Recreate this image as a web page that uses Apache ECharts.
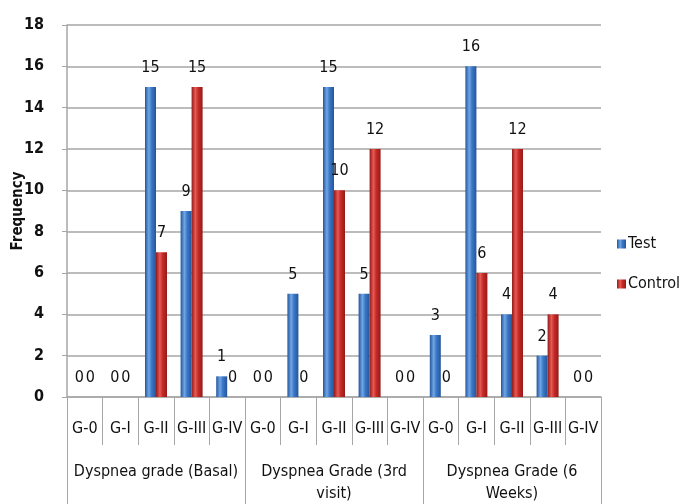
<!DOCTYPE html>
<html>
<head>
<meta charset="utf-8">
<script src="https://cdn.jsdelivr.net/npm/echarts@6/dist/echarts.min.js"></script>
<style>
  html, body { margin: 0; padding: 0; background: #fff; }
  #chart { width: 687px; height: 504px; }
</style>
</head>
<body>
<div id="chart"></div>
<script>
const grades = ['G-0', 'G-I', 'G-II', 'G-III', 'G-IV',
  'G-0', 'G-I', 'G-II', 'G-III', 'G-IV',
  'G-0', 'G-I', 'G-II', 'G-III', 'G-IV']
const groups = ['Dyspnea grade (Basal)', 'Dyspnea Grade (3rd\nvisit)', 'Dyspnea Grade (6\nWeeks)']
const testValues = [0, 0, 15, 9, 1, 0, 5, 15, 5, 0, 3, 16, 4, 2, 0]
const controlValues = [0, 0, 7, 15, 0, 0, 0, 10, 12, 0, 0, 6, 12, 4, 0]
const yTicks = { min: 0, max: 18, interval: 2 }

const font = "'Liberation Sans Narrow', 'DejaVu Sans Condensed', 'Liberation Sans', sans-serif"

const chart = echarts.init(document.getElementById('chart'))

// fake cylinder shading
const shade = (light, mid, dark) => new echarts.graphic.LinearGradient(0, 0, 1, 0, [
  { offset: 0, color: dark },
  { offset: 0.35, color: light },
  { offset: 0.6, color: mid },
  { offset: 1, color: dark },
])

const barLabel = {
  show: true,
  position: 'top',
  distance: 11,
  color: '#111',
  fontSize: 16,
  fontFamily: font,
}

const option = {
  backgroundColor: '#fff',
  textStyle: { fontFamily: font },
  legend: {
    orient: 'vertical',
    left: 612,
    top: 231,
    itemWidth: 9,
    itemHeight: 9,
    itemGap: 24,
    icon: 'rect',
    textStyle: { color: '#111', fontSize: 16, fontFamily: font, padding: [0, 0, 0, -3] },
    data: ['Test', 'Control'],
  },
  grid: {
    left: 67,
    right: 86,
    top: 25,
    bottom: 107,
    containLabel: false,
    outerBoundsMode: 'none',
  },
  xAxis: [
    {
      type: 'category',
      data: grades,
      position: 'bottom',
      axisLine: { lineStyle: { color: '#a6a6a6', width: 1.5 } },
      axisTick: { show: true, length: 48, lineStyle: { color: '#a6a6a6', width: 1 } },
      axisLabel: { interval: 0, margin: 24, color: '#111', fontSize: 16, fontFamily: font },
    },
    {
      type: 'category',
      data: groups,
      position: 'bottom',
      axisLine: { show: false },
      axisTick: { show: true, length: 110, lineStyle: { color: '#a6a6a6', width: 1 } },
      axisLabel: { interval: 0, margin: 64, color: '#111', fontSize: 16, lineHeight: 22, fontFamily: font,
        verticalAlign: 'top' },
    },
  ],
  yAxis: {
    type: 'value',
    min: yTicks.min,
    max: yTicks.max,
    interval: yTicks.interval,
    name: 'Frequency',
    nameLocation: 'middle',
    nameGap: 41,
    nameMoveOverlap: false,
    nameTextStyle: { color: '#111', fontSize: 15, fontWeight: 'bold', fontFamily: font },
    axisLine: { show: true, lineStyle: { color: '#a6a6a6', width: 1.5 } },
    axisTick: { show: true, length: 5, lineStyle: { color: '#a6a6a6' } },
    axisLabel: { color: '#111', fontSize: 16, fontWeight: 'bold', margin: 23, fontFamily: font },
    splitLine: { lineStyle: { color: '#a6a6a6', width: 1.5 } },
  },
  series: [
    {
      name: 'Test',
      type: 'bar',
      data: testValues,
      barWidth: 11,
      barGap: '0%',
      itemStyle: { color: shade('#6fa6e6', '#3b77c6', '#24559c') },
      label: barLabel,
    },
    {
      name: 'Control',
      type: 'bar',
      data: controlValues,
      barWidth: 11,
      itemStyle: { color: shade('#e65a54', '#c62a28', '#931a18') },
      label: barLabel,
    },
  ],
}

chart.setOption(option)
</script>
</body>
</html>
